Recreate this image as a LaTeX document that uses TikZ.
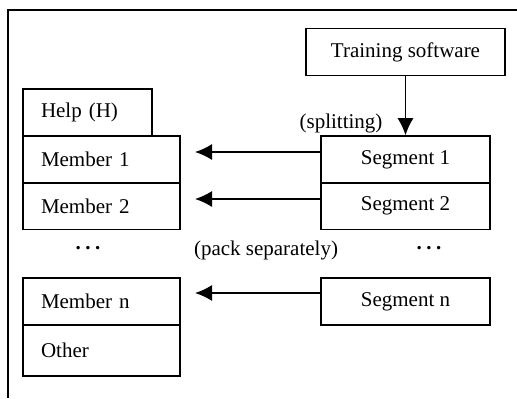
\documentclass[tikz,border=0pt]{standalone}
\usepackage{fontspec}
\setmainfont{Liberation Serif}
\usetikzlibrary{arrows.meta}
\begin{document}
\begin{tikzpicture}[x=0.5pt,y=-0.5pt,
		every node/.style={font=\fontsize{10.5}{12}\selectfont},
		segbox/.style={draw,line width=0.8pt,minimum width=84.5pt,minimum height=23.5pt,inner sep=0pt},
		membox/.style={draw,line width=0.8pt,minimum height=23.5pt,inner xsep=9pt,inner ysep=0pt,text width=60.5pt,align=left},
		pack/.style={line width=0.7pt,-{Latex[length=8.5pt,width=8pt]}}]
		
		\useasboundingbox (0,0) rectangle (517,398);
		
		% frame
		\draw[line width = 0.8pt] (8,398) -- (8,10) -- (517,10);
		
		% software and its segments
		\node[segbox,minimum width=99.5pt] (train) at (405.5,52) {Training software};
		\node[segbox] (s1) at (405.5,159.5) {Segment 1};
		\node[segbox] (s2) at (405.5,206) {Segment 2};
		\node[segbox] (sn) at (405.5,301.5) {Segment n};
		
		% help file members
		\node[membox,text width=46.5pt] (help) at (87.5,112.5) {Help (H)};
		\node[membox] (m1) at (101.5,159.5) {Member 1};
		\node[membox] (m2) at (101.5,206) {Member 2};
		\node[membox] (mn) at (101.5,301.5) {Member n};
		\node[membox,minimum height=25.5pt] (other) at (101.5,350.5) {Other};
		
		\node[anchor=base] (mdots) at (88,249) {\textbf{.\hspace{2.2pt}.\hspace{2.2pt}.}};
		\node[anchor=base] (sdots) at (429,249) {\textbf{.\hspace{2.2pt}.\hspace{2.2pt}.}};
		
		% splitting
		\draw[pack] (train.south) -- (s1.north);
		\node (split) at (341,123) {(splitting)};
		
		% pack separately
		\coordinate (p1) at (195,152);
		\coordinate (p2) at (195,199);
		\coordinate (pn) at (195,293);
		\draw[pack] (s1.west |- p1) -- (p1);
		\draw[pack] (s2.west |- p2) -- (p2);
		\draw[pack] (sn.west |- pn) -- (pn);
		\node (packlbl) at (266,250) {(pack separately)};
		
	\end{tikzpicture}
\end{document}
